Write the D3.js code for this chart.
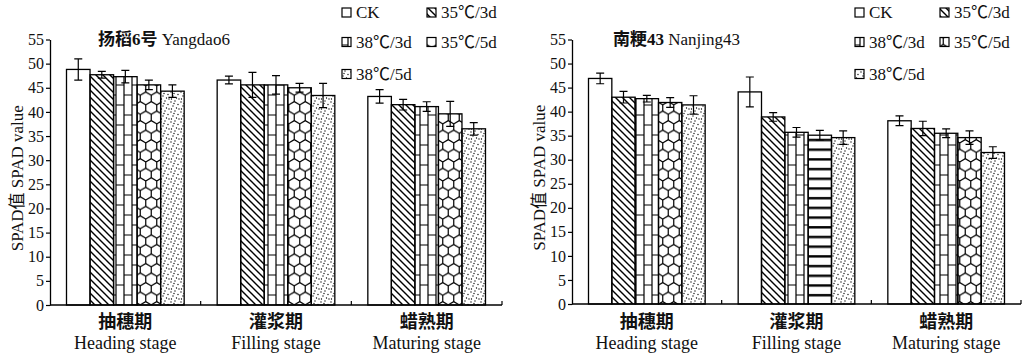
<!DOCTYPE html>
<html><head><meta charset="utf-8">
<script src="https://cdn.jsdelivr.net/npm/d3@7"></script>
<style>
body{margin:0;background:#fff}
text{font-family:"Liberation Serif","Noto Sans CJK SC",serif;fill:#111}
</style>
</head><body>
<svg id="c" width="1024" height="356"></svg>
<script>
// ---------- data ----------
const stagesCN = ["抽穗期", "灌浆期", "蜡熟期"];
const stagesEN = ["Heading stage", "Filling stage", "Maturing stage"];
const treatments = ["CK", "35℃/3d", "38℃/3d", "35℃/5d", "38℃/5d"];
const yTicks = [0, 5, 10, 15, 20, 25, 30, 35, 40, 45, 50, 55];
const yLabel = "SPAD值 SPAD value";
const titleYangdao = ["扬稻6号", "Yangdao6"];
const titleNanjing = ["南粳43", "Nanjing43"];
// rows = stage, columns = treatment
const yangdaoMean = [[48.8, 47.7, 47.3, 45.6, 44.3], [46.6, 45.6, 45.6, 45.0, 43.4], [43.2, 41.5, 41.1, 39.6, 36.5]];
const yangdaoErr  = [[2.2, 0.7, 1.3, 1.0, 1.3], [0.8, 2.6, 1.9, 0.9, 2.5], [1.4, 1.1, 1.0, 2.6, 1.3]];
const nanjingMean = [[46.9, 43.0, 42.7, 41.9, 41.4], [44.1, 38.9, 35.7, 35.1, 34.6], [38.1, 36.5, 35.5, 34.6, 31.5]];
const nanjingErr  = [[1.1, 1.2, 0.7, 1.0, 1.9], [3.1, 0.9, 1.0, 1.0, 1.4], [1.0, 1.5, 0.9, 1.4, 1.2]];

// ---------- styles ----------
const patterns = ["none", "diag", "brick", "hex", "dots"];
const svg = d3.select("#c");
const defs = svg.append("defs");

function pat(id, w, h) {
  return defs.append("pattern").attr("id", id).attr("patternUnits", "userSpaceOnUse")
    .attr("width", w).attr("height", h);
}
// diagonal (backslash)
pat("diag", 7, 7).append("path").attr("d", "M-1,-1L8,8M-1,6L1,8M6,-1L8,1")
  .attr("stroke", "#000").attr("stroke-width", 1.4);
// brick (vertical)
{
  const p = pat("brick", 16, 20);
  p.append("path").attr("d", "M4,0V20M12,0V20M4,5H12M12,15H16M0,15H4")
    .attr("stroke", "#000").attr("stroke-width", 1.2).attr("fill", "none");
}
// honeycomb
{
  const w = 11, r = w / Math.sqrt(3), H = 3 * r;
  const p = pat("hex", w, H);
  const hexPath = (cx, cy) => {
    const pts = [[cx, cy - r], [cx + w / 2, cy - r / 2], [cx + w / 2, cy + r / 2], [cx, cy + r], [cx - w / 2, cy + r / 2], [cx - w / 2, cy - r / 2]];
    return "M" + pts.map(q => q.join(",")).join("L") + "Z";
  };
  let d = "";
  for (let j = -1; j <= 2; j++) for (let i = -1; i <= 1; i++) {
    d += hexPath(i * w + (Math.abs(j) % 2 ? w / 2 : 0) + w / 4, j * 1.5 * r + r / 2);
  }
  p.append("path").attr("d", d).attr("stroke", "#000").attr("stroke-width", 1.2).attr("fill", "none");
}
// dots
{
  const p = pat("dots", 10, 10);
  [[1, 2], [5, 1], [8, 4.5], [3, 6], [6.5, 8], [1.5, 9], [9, 9], [4, 3.5]].forEach(q =>
    p.append("circle").attr("cx", q[0]).attr("cy", q[1]).attr("r", 0.65).attr("fill", "#000"));
}
// horizontal thick lines
pat("hlines", 10, 9.7).append("rect").attr("x", 0).attr("y", 3).attr("width", 10).attr("height", 2.4).attr("fill", "#000");

const fillOf = p => p === "none" ? "#fff" : `url(#${p})`;

// ---------- panel ----------
function panel(cfg) {
  const g = svg.append("g");
  const y = d3.scaleLinear().domain([0, 55]).range([cfg.y0, cfg.y55]);
  const x = d3.scaleBand().domain(stagesEN).range([cfg.x0, cfg.x1]).padding(0);
  const bw = x.bandwidth();
  const xi = d3.scaleBand().domain(treatments).range([16.5, bw - 16.5]).padding(0);

  // bars
  stagesEN.forEach((s, si) => {
    treatments.forEach((t, ti) => {
      const v = cfg.mean[si][ti], e = cfg.err[si][ti];
      const p = (cfg.override && cfg.override[si] && cfg.override[si][ti]) || patterns[ti];
      const bx = x(s) + xi(t);
      g.append("rect").attr("x", bx).attr("y", y(v)).attr("width", xi.bandwidth())
        .attr("height", y(0) - y(v)).attr("fill", fillOf(p))
        .attr("stroke", "#000").attr("stroke-width", 1.3);
      const cx = bx + xi.bandwidth() / 2;
      g.append("path").attr("d", `M${cx},${y(v + e)}V${y(v - e)}M${cx - 4},${y(v + e)}H${cx + 4}M${cx - 4},${y(v - e)}H${cx + 4}`)
        .attr("stroke", "#000").attr("stroke-width", 1.2).attr("fill", "none");
    });
  });

  // y axis
  const ya = g.append("g").attr("transform", `translate(${cfg.x0},0)`)
    .call(d3.axisLeft(y).tickValues(yTicks).tickSize(4).tickPadding(2).tickSizeOuter(0));
  ya.select(".domain").attr("stroke", "#000").attr("stroke-width", 1.3);
  ya.selectAll(".tick line").attr("stroke", "#000").attr("stroke-width", 1.2);
  ya.selectAll(".tick text").style("font-size", "16px").style("font-family", '"Liberation Serif",serif').attr("fill", "#111");

  // x axis
  g.append("line").attr("x1", cfg.x0).attr("x2", cfg.x1).attr("y1", y(0)).attr("y2", y(0))
    .attr("stroke", "#000").attr("stroke-width", 1.3);
  stagesEN.forEach(s => {
    const tx = x(s) + bw;
    g.append("line").attr("x1", tx).attr("x2", tx).attr("y1", y(0)).attr("y2", y(0) - 4)
      .attr("stroke", "#000").attr("stroke-width", 1.2);
  });
  stagesEN.forEach((s, si) => {
    const cx = x(s) + bw / 2;
    g.append("text").attr("x", cx).attr("y", 322).attr("text-anchor", "middle").attr("dominant-baseline", "central")
      .style("font-size", "18px").style("font-weight", "bold").text(stagesCN[si]);
    g.append("text").attr("x", cx).attr("y", 343).attr("text-anchor", "middle").attr("dominant-baseline", "central")
      .style("font-size", "18px").text(s);
  });

  // y label
  g.append("text").attr("transform", `translate(${cfg.x0 - 33},${(y(0) + y(55)) / 2 + 6}) rotate(-90)`)
    .attr("text-anchor", "middle").attr("dominant-baseline", "central")
    .style("font-size", "17px").text(yLabel);

  // title
  const tt = g.append("text").attr("x", cfg.titleX).attr("y", 39).attr("dominant-baseline", "central")
    .style("font-size", "17px");
  tt.append("tspan").style("font-weight", "bold").text(cfg.title[0]);
  tt.append("tspan").text(" " + cfg.title[1]);

  // legend
  const rows = [12.5, 42, 74];
  treatments.forEach((t, ti) => {
    const lx = cfg.legX + (ti % 2) * cfg.legDX, ly = rows[Math.floor(ti / 2)];
    g.append("rect").attr("x", lx).attr("y", ly - 4.5).attr("width", 9).attr("height", 9)
      .attr("fill", fillOf(patterns[ti])).attr("stroke", "#000").attr("stroke-width", 1.2);
    g.append("text").attr("x", lx + 14).attr("y", ly).attr("dominant-baseline", "central")
      .style("font-size", "17px").text(t);
  });
}

panel({x0: 50, x1: 502, y0: 305, y55: 39.5, mean: yangdaoMean, err: yangdaoErr,
  title: titleYangdao, titleX: 98, legX: 342, legDX: 85});
panel({x0: 572, x1: 1021, y0: 304, y55: 39.5, mean: nanjingMean, err: nanjingErr,
  title: titleNanjing, titleX: 613, legX: 855, legDX: 85,
  override: [null, [null, null, null, "hlines", null], null]});
</script>
</body></html>
